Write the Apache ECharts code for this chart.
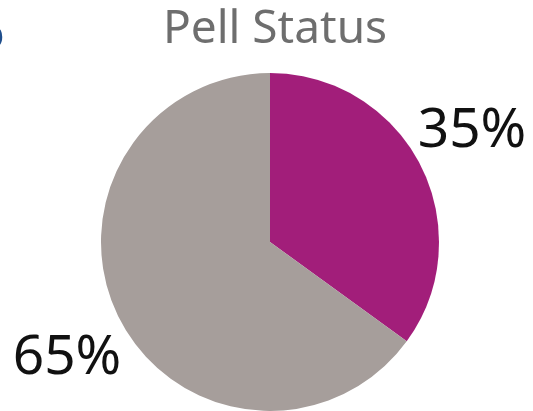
<!DOCTYPE html>
<html><head><meta charset="utf-8">
<script src="https://cdn.jsdelivr.net/npm/echarts@6/dist/echarts.min.js"></script>
<style>html,body{margin:0;padding:0;background:#fff}#c{width:533px;height:411px}</style>
</head><body><div id="c"></div>
<script>
const categories = ['Pell', 'Non-Pell'];
const values = [35, 65];
const colors = ['#A21E7A', '#A69E9B'];
const labelPos = [[472, 131], [67, 358]];

const chart = echarts.init(document.getElementById('c'));
chart.setOption({
  animation: false,
  title: {
    text: 'Pell Status', left: 270, top: 2, textAlign: 'center',
    textStyle: { fontFamily: 'Noto Sans', fontSize: 46, fontWeight: 'normal', color: '#6E6E6E' }
  },
  graphic: [{
    type: 'text', x: -22, y: 14,
    style: { text: 'o', font: '44px Noto Sans', fill: '#1F4E8C' }
  }],
  series: [{
    type: 'pie', center: [270, 242], radius: [0, 169], startAngle: 90, clockwise: true,
    data: categories.map((c, i) => ({ name: c, value: values[i], itemStyle: { color: colors[i] } })),
    label: {
      show: true, formatter: p => p.value + '%', fontFamily: 'Noto Sans', fontSize: 55, color: '#111',
      position: 'outside', overflow: 'none', width: 200
    },
    labelLine: { show: false },
    labelLayout: p => ({ x: labelPos[p.dataIndex][0], y: labelPos[p.dataIndex][1], align: 'center', verticalAlign: 'middle' })
  }]
});
</script></body></html>
